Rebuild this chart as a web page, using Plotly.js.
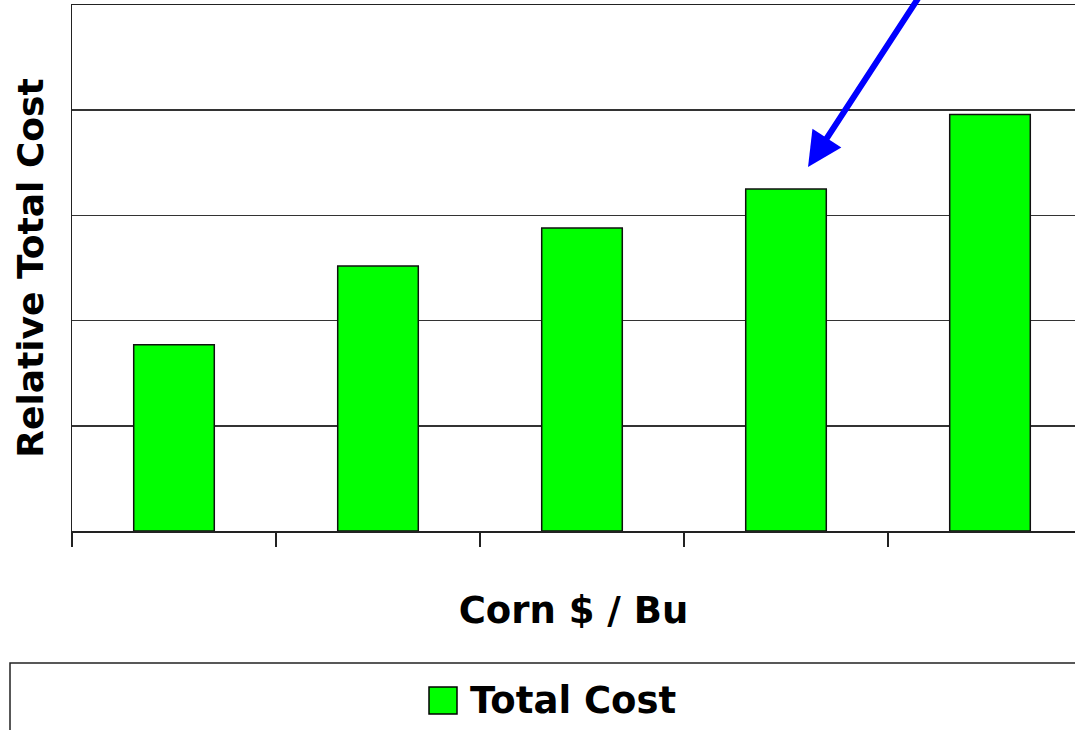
<!DOCTYPE html>
<html>
<head>
<meta charset="utf-8">
<script src="https://cdn.plot.ly/plotly-3.0.1.min.js"></script>
<style>html,body{margin:0;padding:0;background:#fff;}#chart{width:1075px;height:730px;}</style>
</head>
<body>
<div id="chart"></div>
<script>
// Data (relative units, gridline = 1)
const categories = ["1", "2", "3", "4", "5"];
const totalCost = [1.77, 2.52, 2.88, 3.25, 3.96];
const seriesName = "Total Cost";
const xTitle = "Corn $ / Bu";
const yTitle = "Relative Total Cost";

const W = 1075, H = 730;
const mL = 72, mT = 5, mB = 199, mR = 0;
const plotW = W - mL - mR, plotH = H - mT - mB;
const catPx = 204;
const px2paperX = p => (p - mL) / plotW;
const px2paperY = p => (H - mB - p) / plotH;

const FONT = "DejaVu Sans";

const trace = {
  type: "bar",
  x: categories,
  y: totalCost,
  name: seriesName,
  width: 0.395,
  marker: {color: "#00FF00", line: {color: "#111", width: 1.5}},
  showlegend: false,
  hoverinfo: "y"
};

const layout = {
  width: W, height: H,
  margin: {l: mL, r: mR, t: mT, b: mB, pad: 0},
  paper_bgcolor: "#ffffff",
  plot_bgcolor: "#ffffff",
  showlegend: false,
  xaxis: {
    type: "category",
    range: [-0.5, -0.5 + plotW / catPx],
    showticklabels: false,
    tickson: "boundaries",
    ticks: "outside",
    ticklen: 14,
    tickwidth: 1.5,
    tickcolor: "#222",
    showline: true,
    mirror: true,
    linecolor: "#222",
    linewidth: 1.5,
    showgrid: false,
    zeroline: false,
    title: {text: "<b>" + xTitle + "</b>", font: {family: FONT, size: 37, color: "#000"}, standoff: 65},
    automargin: false,
    fixedrange: true
  },
  yaxis: {
    range: [0, 5],
    dtick: 1,
    tick0: 0,
    showticklabels: false,
    ticks: "",
    showline: true,
    linecolor: "#222",
    linewidth: 1.5,
    showgrid: true,
    gridcolor: "#333",
    gridwidth: 1.5,
    zeroline: false,
    title: {text: "<b>" + yTitle + "</b>", font: {family: FONT, size: 36, color: "#000"}, standoff: 16},
    automargin: false,
    fixedrange: true
  },
  shapes: [
    {type: "rect", xref: "paper", yref: "paper",
     x0: px2paperX(10), x1: px2paperX(1090), y0: px2paperY(663), y1: px2paperY(745),
     line: {color: "#222", width: 1.5}, fillcolor: "rgba(0,0,0,0)", layer: "above"},
    {type: "rect", xref: "paper", yref: "paper",
     x0: px2paperX(429), x1: px2paperX(457), y0: px2paperY(714), y1: px2paperY(687),
     line: {color: "#000", width: 1.5}, fillcolor: "#00FF00", layer: "above"}
  ],
  annotations: [
    {xref: "paper", yref: "paper", x: px2paperX(468), y: px2paperY(700),
     xanchor: "left", yanchor: "middle", showarrow: false,
     text: "<b>" + seriesName + "</b>", font: {family: FONT, size: 37, color: "#000"}},
    {xref: "x", yref: "y", axref: "x", ayref: "y",
     x: 3.108, y: 3.46, ax: 3.66, ay: 5.1,
     showarrow: true, arrowhead: 2, arrowsize: 1.15, arrowwidth: 6, arrowcolor: "#0000FF",
     text: ""}
  ]
};

Plotly.newPlot("chart", [trace], layout, {staticPlot: true, displayModeBar: false});
</script>
</body>
</html>
